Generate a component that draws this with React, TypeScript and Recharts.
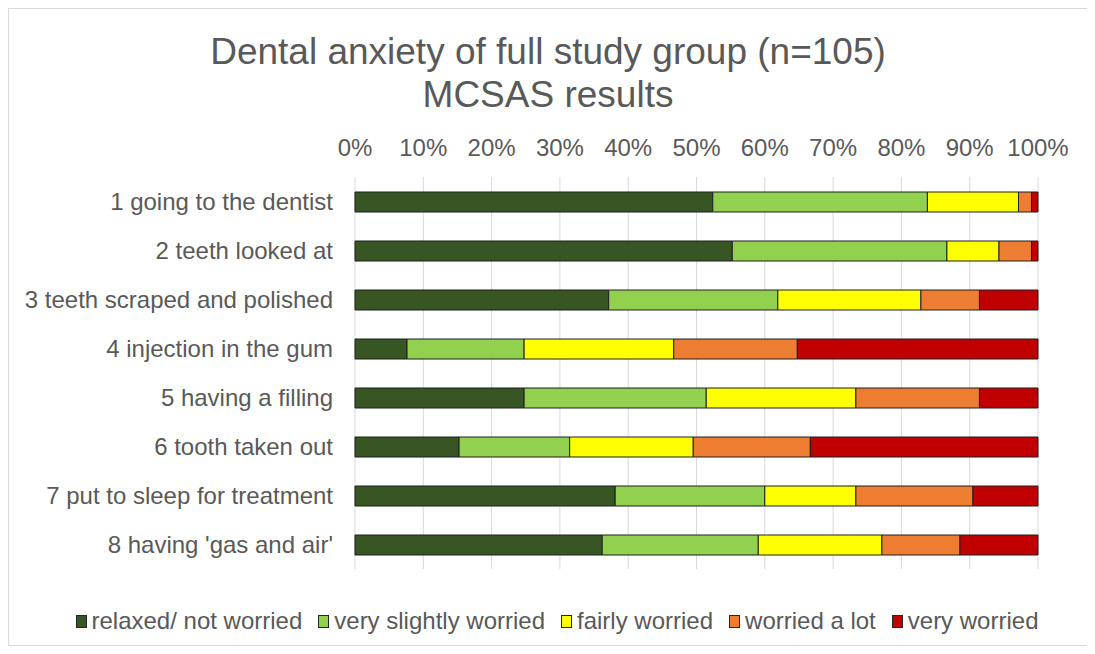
import React from "react";
import { BarChart, Bar, XAxis, YAxis, CartesianGrid } from "recharts";

const categories = [
  "1 going to the dentist",
  "2 teeth looked at",
  "3 teeth scraped and polished",
  "4 injection in the gum",
  "5 having a filling",
  "6 tooth taken out",
  "7 put to sleep for treatment",
  "8 having 'gas and air'",
];
const relaxed = [55, 58, 39, 8, 26, 16, 40, 38];
const slightly = [33, 33, 26, 18, 28, 17, 23, 24];
const fairly = [14, 8, 22, 23, 23, 19, 14, 19];
const alot = [2, 5, 9, 19, 19, 18, 18, 12];
const very = [1, 1, 9, 37, 9, 35, 10, 12];
const xTicks = [0, 0.1, 0.2, 0.3, 0.4, 0.5, 0.6, 0.7, 0.8, 0.9, 1];

const series = [
  { key: "relaxed", name: "relaxed/ not worried", color: "#375623", values: relaxed },
  { key: "slightly", name: "very slightly worried", color: "#92D050", values: slightly },
  { key: "fairly", name: "fairly worried", color: "#FFFF00", values: fairly },
  { key: "alot", name: "worried a lot", color: "#ED7D31", values: alot },
  { key: "very", name: "very worried", color: "#C00000", values: very },
];

const data = categories.map((c, i) => {
  const row: Record<string, string | number> = { name: c };
  series.forEach((s) => (row[s.key] = s.values[i]));
  return row;
});

const FONT = "'Liberation Sans', Arial, sans-serif";
const TXT = "#595959";

export default function App() {
  return (
    <div
      style={{
        position: "relative",
        width: 1078,
        height: 636,
        border: "1px solid #d9d9d9",
        fontFamily: FONT,
        background: "#fff",
      }}
    >
      <div
        style={{
          position: "absolute",
          top: 21,
          left: 0,
          width: 1078,
          textAlign: "center",
          color: TXT,
          fontSize: 37,
          lineHeight: "43px",
        }}
      >
        <div>Dental anxiety of full study group (n=105)</div>
        <div>MCSAS results</div>
      </div>
      <div style={{ position: "absolute", top: 0, left: 0 }}>
        <BarChart
          width={1078}
          height={570}
          data={data}
          layout="vertical"
          stackOffset="expand"
          margin={{ top: 138, right: 49, bottom: 10, left: 0 }}
        >
          <CartesianGrid horizontal={false} vertical={true} stroke="#d9d9d9" />
          <XAxis
            type="number"
            orientation="top"
            domain={[0, 1]}
            ticks={xTicks}
            height={30}
            axisLine={false}
            tickLine={false}
            tickMargin={15}
            interval={0}
            tickFormatter={(v: number) => `${Math.round(v * 100)}%`}
            tick={{ fill: TXT, fontSize: 24, fontFamily: FONT }}
          />
          <YAxis
            type="category"
            dataKey="name"
            width={346}
            axisLine={false}
            tickLine={false}
            tickMargin={16}
            interval={0}
            tick={{ fill: TXT, fontSize: 24, fontFamily: FONT }}
          />
          {series.map((s) => (
            <Bar
              key={s.key}
              dataKey={s.key}
              name={s.name}
              stackId="a"
              fill={s.color}
              stroke="#1f1f1f"
              strokeWidth={1}
              barSize={20}
              isAnimationActive={false}
            />
          ))}
        </BarChart>
      </div>
      <div
        style={{
          position: "absolute",
          top: 598,
          left: 9,
          width: 1078,
          display: "flex",
          justifyContent: "center",
          alignItems: "center",
          color: TXT,
          fontSize: 24,
          lineHeight: "28px",
        }}
      >
        {series.map((s, i) => (
          <div
            key={s.key}
            style={{ display: "flex", alignItems: "center", marginRight: i < series.length - 1 ? 16 : 0 }}
          >
            <span
              style={{
                display: "inline-block",
                width: 9,
                height: 11,
                background: s.color,
                border: "1px solid #262626",
                marginRight: 5,
              }}
            />
            <span>{s.name}</span>
          </div>
        ))}
      </div>
    </div>
  );
}
